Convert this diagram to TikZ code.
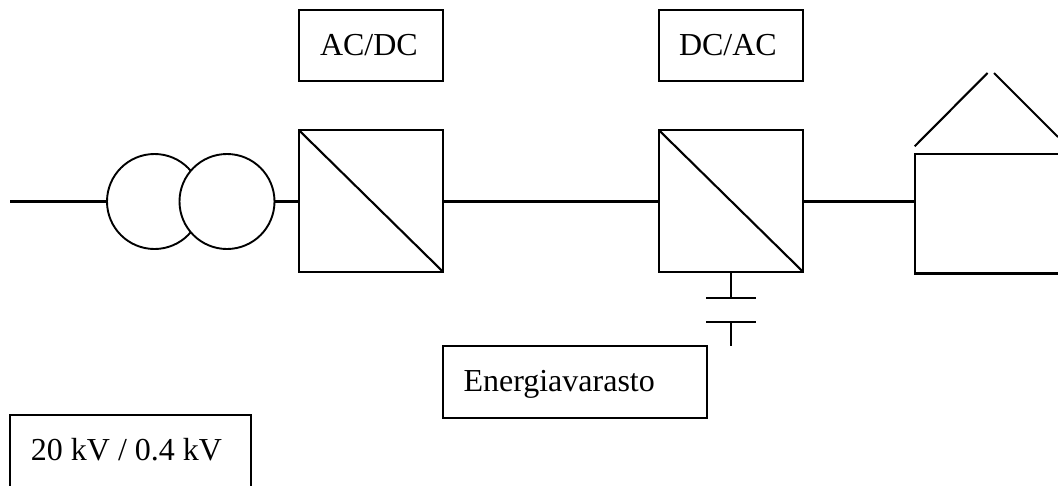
\documentclass[tikz,border=0pt]{standalone}
\usepackage{fontspec}
\setmainfont{Liberation Serif}
\tikzset{
  pbox/.style 2 args={draw=black, fill=white, rectangle, line width=2.1*0.75pt, minimum width=#1*0.75pt, minimum height=#2*0.75pt, inner sep=0pt, outer sep=0pt},
  ring/.style={draw=black, fill=white, circle, line width=1.9*0.75pt, minimum size=95*0.75pt, inner sep=0pt, outer sep=0pt},
  wire/.style={draw=black, line width=2.1*0.75pt},
  lbl/.style={anchor=base west, inner sep=0pt, outer sep=0pt, text=black, font=\fontsize{24pt}{28pt}\selectfont}
}
\begin{document}
\begin{tikzpicture}[x=0.75pt,y=-0.75pt]
\clip (0,0) rectangle (1058,486);
\fill[white] (0,0) rectangle (1058,486);
% transformer
\node[ring] (t1) at (154.5,201.5) {};
\node[ring] (t2) at (227,201.5) {};
\coordinate (in) at (10,201.5);
\draw[wire] (in) -- (t1.west);
% converters
\node[pbox={144.5}{142}] (c1) at (298.8+72.2,201) {};
\node[pbox={144.5}{142}] (c2) at (658.8+72.2,201) {};
\draw[wire] (c1.north west) -- (c1.south east);
\draw[wire] (c2.north west) -- (c2.south east);
\draw[wire] (t2.east) -- (t2.east -| c1.west);
\draw[wire] (t2.east -| c1.east) -- (t2.east -| c2.west);
% label boxes
\node[pbox={144.5}{71.5}] (acdcbox) at (371,45.5) {};
\node[pbox={144.5}{71.5}] (dcacbox) at (731,45.5) {};
\node[lbl] (acdc) at (320,55) {AC/DC};
\node[lbl] (dcac) at (679,55) {DC/AC};
% house
\node[pbox={170}{119.5}] (house) at (914.8+85,213.7) {};
\draw[wire] (t2.east -| c2.east) -- (t2.east -| house.west);
\coordinate (roofa) at (914.7,146.3);
\coordinate (roofb) at (987.5,73);
\coordinate (roofc) at (994,73);
\coordinate (roofd) at (1058,137);
\draw[wire] (roofa) -- (roofb);
\draw[wire] (roofc) -- (roofd);
% capacitor
\coordinate (capa) at (706,297.7);
\coordinate (capb) at (755.7,297.7);
\coordinate (capc) at (706,321.7);
\coordinate (capd) at (755.7,321.7);
\coordinate (capend) at (731,346.3);
\draw[wire] (c2.south) -- (c2.south |- capa);
\draw[wire] (capa) -- (capb);
\draw[wire] (capc) -- (capd);
\draw[wire] (capend |- capc) -- (capend);
% storage
\node[pbox={264.5}{71.5}] (store) at (442.7+132.2,381.8) {};
\node[lbl] (storetext) at (463.5,391.7) {Energiavarasto};
% transformer label
\node[pbox={241}{100}] (ratio) at (130.5,465) {};
\node[lbl] (ratiotext) at (31,460) {20 kV / 0.4 kV};
\end{tikzpicture}
\end{document}
